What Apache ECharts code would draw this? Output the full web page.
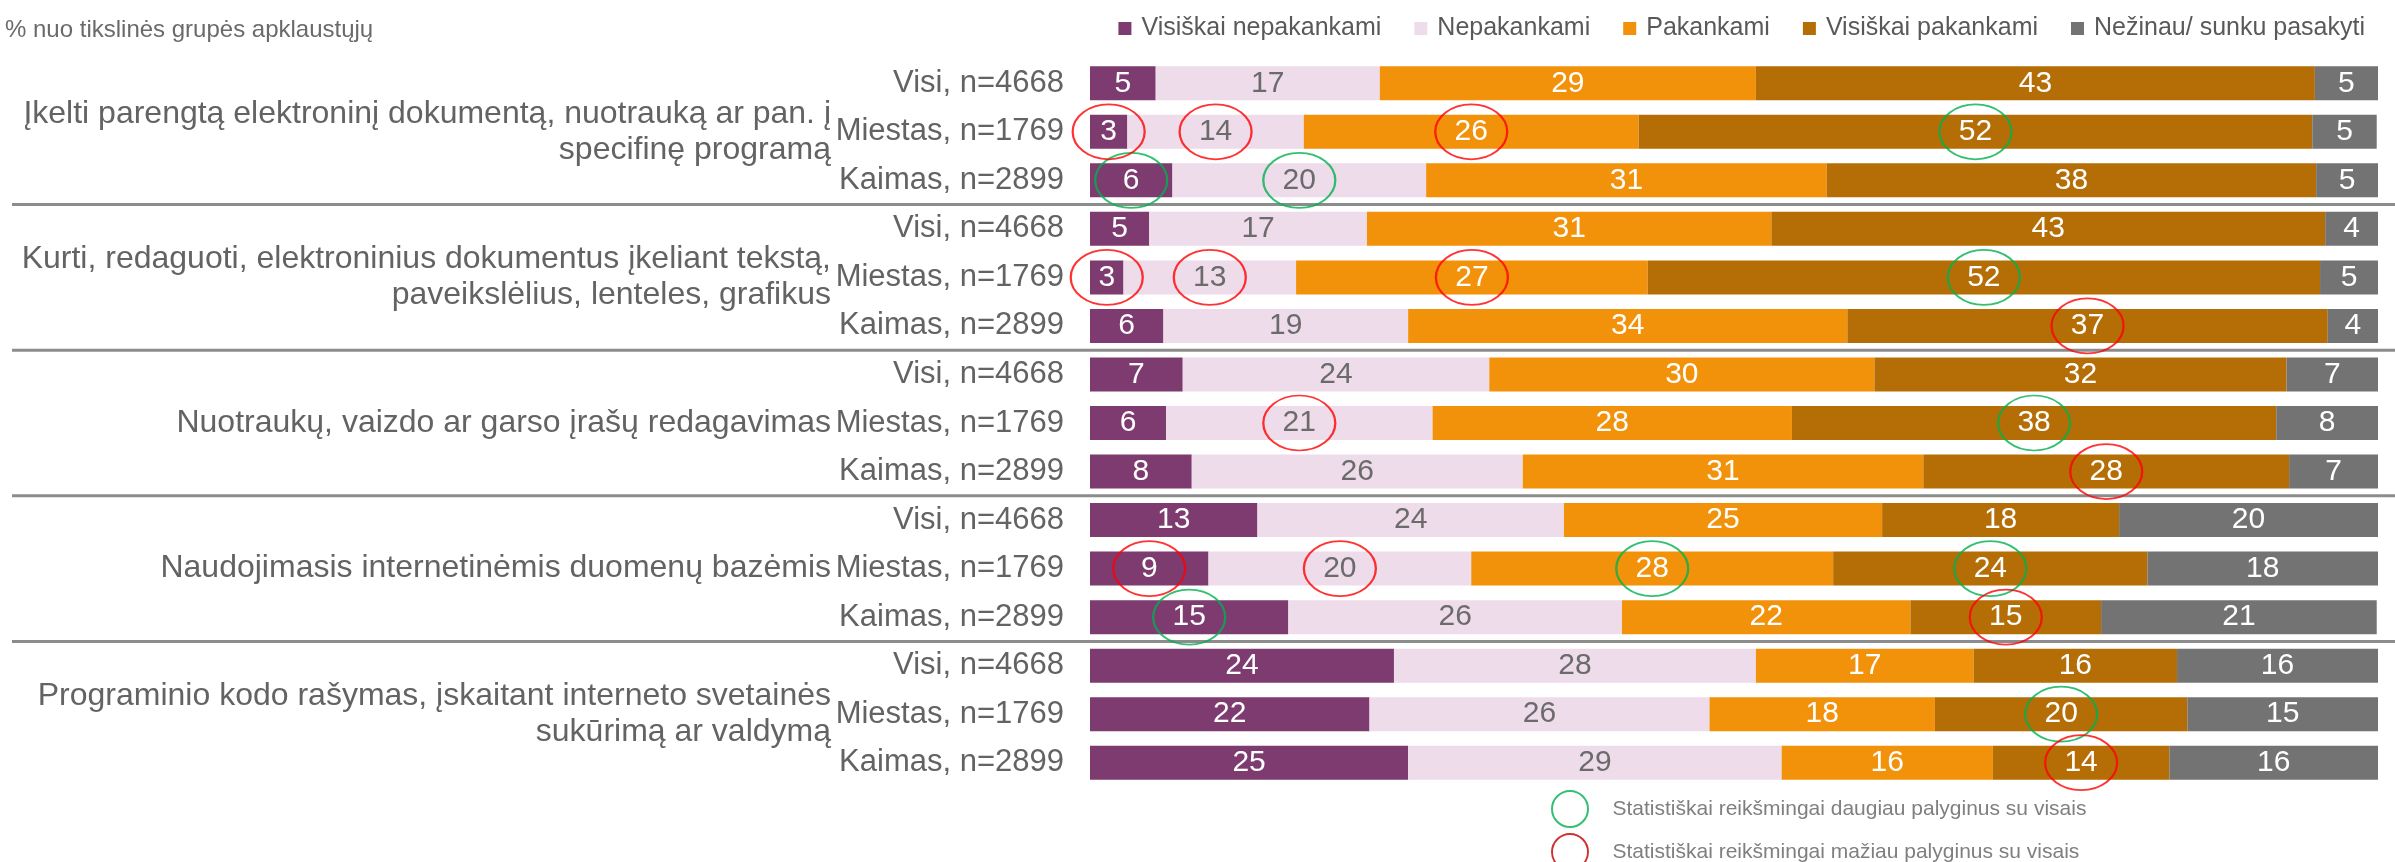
<!DOCTYPE html>
<html>
<head>
<meta charset="utf-8">
<title>Skaitmeniniai įgūdžiai</title>
<script src="https://cdn.jsdelivr.net/npm/echarts@6/dist/echarts.min.js"></script>
<style>
  html, body { margin: 0; padding: 0; background: #fff; }
  #chart { width: 2395px; height: 862px; }
</style>
</head>
<body>
<div id="chart"></div>
<script>
  // eilutės iš viršaus į apačią (5 grupės po 3 eilutes)
  const rowLabels = [
    'Visi, n=4668', 'Miestas, n=1769', 'Kaimas, n=2899',
    'Visi, n=4668', 'Miestas, n=1769', 'Kaimas, n=2899',
    'Visi, n=4668', 'Miestas, n=1769', 'Kaimas, n=2899',
    'Visi, n=4668', 'Miestas, n=1769', 'Kaimas, n=2899',
    'Visi, n=4668', 'Miestas, n=1769', 'Kaimas, n=2899'
  ]
  const groupLabels = [
    '', 'Įkelti parengtą elektroninį dokumentą, nuotrauką ar pan. į\nspecifinę programą', '',
    '', 'Kurti, redaguoti, elektroninius dokumentus įkeliant tekstą,\npaveikslėlius, lenteles, grafikus', '',
    '', 'Nuotraukų, vaizdo ar garso įrašų redagavimas', '',
    '', 'Naudojimasis internetinėmis duomenų bazėmis', '',
    '', 'Programinio kodo rašymas, įskaitant interneto svetainės\nsukūrimą ar valdymą', ''
  ]
  const seriesNames = ['Visiškai nepakankami', 'Nepakankami', 'Pakankami', 'Visiškai pakankami', 'Nežinau/ sunku pasakyti']

  // % (neapvalinti, nuskaityti nuo juostų ilgio)
  const visiskaiNepakankami = [5.1, 2.9, 6.4, 4.6, 2.6, 5.7, 7.2, 5.9, 7.9, 13.0, 9.2, 15.4, 23.6, 21.7, 24.7]
  const nepakankami = [17.4, 13.7, 19.7, 16.9, 13.4, 19.0, 23.8, 20.7, 25.7, 23.8, 20.4, 25.9, 28.1, 26.4, 29.0]
  const pakankami = [29.2, 26.0, 31.1, 31.4, 27.3, 34.1, 29.9, 27.9, 31.1, 24.7, 28.1, 22.4, 16.9, 17.5, 16.4]
  const visiskaiPakankami = [43.4, 52.3, 38.0, 43.0, 52.2, 37.3, 32.0, 37.6, 28.4, 18.4, 24.4, 14.8, 15.8, 19.6, 13.7]
  const nezinau = [5.0, 5.0, 4.9, 4.1, 4.5, 3.9, 7.2, 7.9, 6.9, 20.1, 18.0, 21.4, 15.6, 14.8, 16.2]

  // [eilutė, atsakymo nr.]
  const higherMarks = [[1, 3], [2, 0], [2, 1], [4, 3], [7, 3], [10, 2], [10, 3], [11, 0], [13, 3]]
  const lowerMarks = [[1, 0], [1, 1], [1, 2], [4, 0], [4, 1], [4, 2], [5, 3], [7, 1], [8, 3], [10, 0], [10, 1], [11, 3], [14, 3]]
  const higherName = 'Statistiškai reikšmingai daugiau palyginus su visais'
  const lowerName = 'Statistiškai reikšmingai mažiau palyginus su visais'

  const values = [visiskaiNepakankami, nepakankami, pakankami, visiskaiPakankami, nezinau]
  const colors = ['#7d3b6f', '#eedcea', '#f2910a', '#b56e05', '#737373']
  const ellipse = 'path://M0,50 C0,22.4 22.4,0 50,0 C77.6,0 100,22.4 100,50 C100,77.6 77.6,100 50,100 C22.4,100 0,77.6 0,50 Z'

  function markPoints(list) {
    return list.map(function (m) {
      let start = 0
      for (let k = 0; k < m[1]; k++) start += values[k][m[0]]
      return [start + values[m[1]][m[0]] / 2, m[0]]
    })
  }

  const chart = echarts.init(document.getElementById('chart'))

  const barSeries = seriesNames.map(function (name, i) {
    return {
      name: name,
      type: 'bar',
      stack: 'total',
      barWidth: 34,
      data: values[i],
      itemStyle: { color: colors[i] },
      label: {
        show: true,
        position: 'inside',
        fontSize: 30,
        fontFamily: 'Liberation Sans, Arial, sans-serif',
        color: i === 1 ? '#6b6b6b' : '#ffffff',
        formatter: function (p) { return Math.round(p.value) }
      },
      emphasis: { disabled: true }
    }
  })

  const option = {
    animation: false,
    textStyle: { fontFamily: 'Liberation Sans, Arial, sans-serif' },
    title: {
      text: '% nuo tikslinės grupės apklaustųjų',
      left: 0,
      top: 13,
      textStyle: { fontSize: 24, fontWeight: 'normal', color: '#6a6a6a' }
    },
    legend: [{
      data: seriesNames,
      top: 11,
      right: 25,
      itemWidth: 13,
      itemHeight: 13,
      itemGap: 33,
      icon: 'rect',
      textStyle: { fontSize: 25, color: '#595959', padding: [0, 0, 0, 5] }
    }, {
      data: [
        { name: higherName, icon: ellipse, itemStyle: { borderColor: '#00b050' } },
        { name: lowerName, icon: ellipse, itemStyle: { borderColor: '#c00000' } }
      ],
      orient: 'vertical',
      left: 1551,
      top: 790,
      height: 120,
      padding: 0,
      itemWidth: 43,
      itemHeight: 36,
      itemGap: 5,
      textStyle: { fontSize: 21, color: '#7f7f7f', padding: [0, 0, 0, 16] }
    }],
    grid: { left: 1090, right: 17, top: 59, bottom: 75 },
    xAxis: { type: 'value', min: 0, max: 100, show: false },
    yAxis: [{
      type: 'category',
      inverse: true,
      data: rowLabels,
      axisLine: { show: false },
      axisTick: { show: false },
      axisLabel: { interval: 0, margin: 26, fontSize: 31, color: '#636363' }
    }, {
      type: 'category',
      inverse: true,
      position: 'left',
      offset: 249,
      data: groupLabels,
      axisLine: { show: false },
      axisTick: { show: false },
      axisLabel: { interval: 0, margin: 10, fontSize: 32, lineHeight: 36, color: '#636363', align: 'right' }
    }],
    series: barSeries.concat([{
      name: higherName,
      type: 'scatter',
      symbol: ellipse,
      symbolSize: [72, 55],
      data: markPoints(higherMarks),
      itemStyle: { color: 'rgba(0,0,0,0)', borderColor: '#00b050', borderWidth: 2 },
      silent: true,
      z: 5
    }, {
      name: lowerName,
      type: 'scatter',
      symbol: ellipse,
      symbolSize: [72, 55],
      data: markPoints(lowerMarks),
      itemStyle: { color: 'rgba(0,0,0,0)', borderColor: '#ff0000', borderWidth: 2 },
      silent: true,
      z: 5
    }])
  }
  chart.setOption(option)

  // skiriamosios linijos tarp grupių
  const y0 = chart.convertToPixel({ yAxisIndex: 0 }, 0)
  const step = chart.convertToPixel({ yAxisIndex: 0 }, 1) - y0
  const lines = [2, 5, 8, 11].map(function (r) {
    const y = chart.convertToPixel({ yAxisIndex: 0 }, r) + step / 2
    return {
      type: 'line',
      shape: { x1: 12, y1: y, x2: 2395, y2: y },
      style: { stroke: '#8c8c8c', lineWidth: 3 },
      silent: true
    }
  })
  chart.setOption({ graphic: lines })
</script>
</body>
</html>
